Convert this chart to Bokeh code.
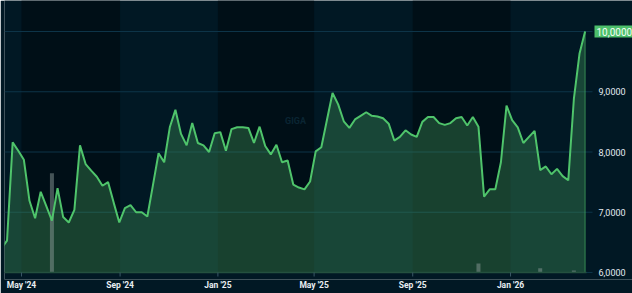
import pandas as pd
from bokeh.plotting import figure
from bokeh.models import (Range1d, FixedTicker, DatetimeTickFormatter,
                          BoxAnnotation, Label, ColumnDataSource)
from bokeh.core.properties import value
from bokeh.embed import file_html
from bokeh.resources import INLINE

# ---- data ----
start_date = "2024-04-06"          # weekly closes
prices = [6.40, 6.53, 8.16, 8.02, 7.87, 7.19, 6.90, 7.34, 7.10, 6.86,
          7.40, 6.92, 6.83, 7.04, 8.11, 7.80, 7.69, 7.59, 7.44, 7.50,
          7.16, 6.83, 7.07, 7.12, 7.00, 7.00, 6.93, 7.45, 7.98, 7.83,
          8.41, 8.70, 8.30, 8.11, 8.48, 8.15, 8.11, 8.00, 8.31, 8.33,
          8.02, 8.38, 8.41, 8.41, 8.40, 8.15, 8.42, 8.10, 7.96, 8.12,
          7.83, 7.86, 7.46, 7.41, 7.38, 7.51, 8.01, 8.08, 8.53, 8.98,
          8.79, 8.51, 8.40, 8.54, 8.60, 8.66, 8.60, 8.59, 8.56, 8.47,
          8.19, 8.25, 8.36, 8.29, 8.25, 8.50, 8.58, 8.58, 8.48, 8.45,
          8.48, 8.56, 8.58, 8.44, 8.58, 8.42, 7.26, 7.38, 7.38, 7.83,
          8.77, 8.53, 8.41, 8.15, 8.25, 8.35, 7.70, 7.76, 7.63, 7.72,
          7.60, 7.53, 8.88, 9.63, 10.00]
vol_weeks = [9, 85, 96, 102]       # positions in the weekly series
vol_values = [1.64, 0.15, 0.07, 0.035]

x_tick_dates = ["2024-05-01", "2024-09-01", "2025-01-01", "2025-05-01",
                "2025-09-01", "2026-01-01"]
y_ticks = [6, 7, 8, 9, 10]
y_tick_labels = ["6,0000", "7,0000", "8,0000", "9,0000", "10,0000"]
last_label = "10,0000"
watermark = "GIGA"

view_start = pd.Timestamp("2024-04-09 20:00")
view_end = pd.Timestamp("2026-04-05 18:00")

# ---- layout constants ----
DATA_W = 582          # px of the data area
GUTTER = 46           # px of the price-scale gutter on the right
DATA_H = 272          # px from top to the 6,0000 level
BELOW = 7             # px of frame kept below the 6,0000 level
TICK = 6              # px of the price-scale ticks
XTICK = 4             # px of the time-axis ticks
PX_PER_UNIT = 60.25
VOL_MAX = 4.5
BG = "#011824"
DARK = "#000f17"
GRID = "#0d3448"

span = view_end - view_start
x_end = view_end + span * (GUTTER / DATA_W)
tick_end = view_end + span * (TICK / DATA_W)
y0 = y_ticks[0]
y_start = y0 - BELOW / PX_PER_UNIT
y_stop = y0 + DATA_H / PX_PER_UNIT
vol_start = -VOL_MAX * BELOW / DATA_H

dates = pd.date_range(start_date, periods=len(prices), freq="7D")
src = ColumnDataSource(dict(x=dates, y=prices, base=[y0] * len(prices)))
vsrc = ColumnDataSource(dict(x=[dates[i] for i in vol_weeks], v=vol_values))

p = figure(frame_width=DATA_W + GUTTER, frame_height=DATA_H + BELOW,
           x_axis_type="datetime", y_axis_location=None,
           output_backend="svg", toolbar_location=None,
           x_range=Range1d(view_start, x_end),
           y_range=Range1d(y_start, y_stop),
           min_border_left=4, min_border_right=0, min_border_top=0,
           min_border_bottom=293 - (DATA_H + BELOW),
           background_fill_color=BG, border_fill_color=BG, outline_line_color=None)
p.extra_y_ranges = {"vol": Range1d(vol_start, VOL_MAX)}

# alternating bands
tdates = [pd.Timestamp(d) for d in x_tick_dates]
for i in range(0, len(tdates) - 1, 2):
    p.add_layout(BoxAnnotation(left=tdates[i], right=tdates[i + 1], bottom=y0,
                               fill_color=DARK, fill_alpha=1, line_color=None,
                               level="image"))

# horizontal grid lines (ending at the price-scale ticks)
p.xgrid.visible = False
p.ygrid.visible = False
p.segment(x0=[view_start] * len(y_ticks), y0=y_ticks,
          x1=[tick_end] * len(y_ticks), y1=y_ticks,
          line_color=GRID, line_width=1, level="underlay")

p.varea(x="x", y1="base", y2="y", source=src, fill_color="#3c8c55", fill_alpha=0.4)
p.vbar(x="x", top="v", bottom=0, width=5 * 24 * 3600 * 1000, source=vsrc,
       y_range_name="vol", fill_color="#8a9a98", fill_alpha=0.5, line_color=None)
p.line(x="x", y="y", source=src, line_color="#4fc46b", line_width=2)
p.segment(x0=[dates[-1]], y0=[y0], x1=[dates[-1]], y1=[prices[-1]],
          line_color="#4fc46b", line_width=1, line_alpha=0.6)

# bottom line of the data area and time ticks
p.segment(x0=[view_start], y0=[y0], x1=[view_end], y1=[y0],
          line_color="#24503f", line_width=1.5)
p.segment(x0=tdates, y0=[y0] * len(tdates), x1=tdates,
          y1=[y0 - XTICK / PX_PER_UNIT] * len(tdates),
          line_color="#3a5866", line_width=1)

# price scale labels (top one replaced by the last-price tag)
p.text(x=[view_end] * (len(y_ticks) - 1), y=y_ticks[:-1], text=y_tick_labels[:-1],
       x_offset=TICK + 6, text_align="left", text_baseline="middle",
       text_color="#e3ebf0", text_font=value("Roboto"), text_font_size="9px")

# x axis
xa = p.xaxis[0]
xa.ticker = FixedTicker(ticks=[t.value / 1e6 for t in tdates])
fmt = "%b '%y"
xa.formatter = DatetimeTickFormatter(days=fmt, months=fmt, years=fmt, hours=fmt,
                                     minutes=fmt, seconds=fmt, milliseconds=fmt,
                                     microseconds=fmt, minsec=fmt, hourmin=fmt)
xa.axis_line_color = None
xa.major_tick_line_color = None
xa.minor_tick_line_color = None
xa.major_tick_in = 0
xa.major_tick_out = 0
xa.major_label_standoff = 0
xa.major_label_text_color = "#e8eef2"
xa.major_label_text_font = "Roboto"
xa.major_label_text_font_style = "bold"
xa.major_label_text_font_size = "8.5px"

# watermark
mid = view_start + span / 2
p.add_layout(Label(x=mid, y=8.52, text=watermark, text_align="center",
                   text_baseline="middle", text_color="#0a2533",
                   text_font_size="9px", text_font_style="bold",
                   text_font="Roboto"))

# last price tag
p.add_layout(Label(x=view_end, y=prices[-1], text=last_label, x_offset=TICK + 2,
                   text_align="left", text_baseline="middle", text_color="#f4fff6",
                   text_font="Roboto", text_font_size="10px",
                   background_fill_color="#4dbf6b", background_fill_alpha=1,
                   padding=2))

open("out.html", "w").write(file_html(p, INLINE))
